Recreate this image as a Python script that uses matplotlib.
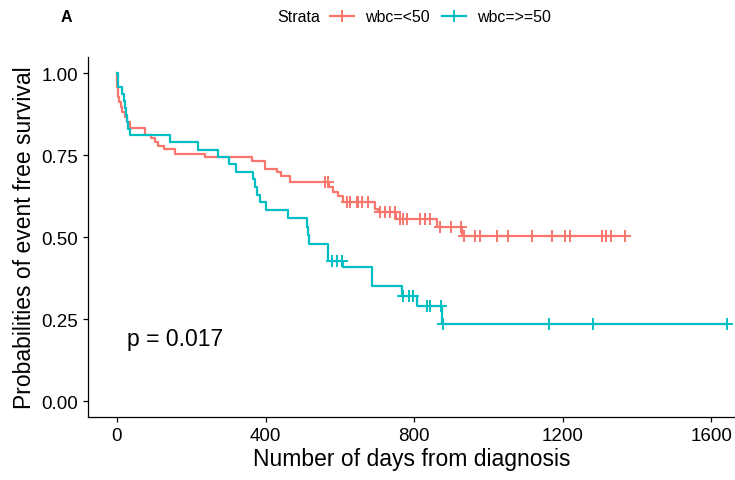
import numpy as np
import matplotlib.pyplot as plt
from matplotlib.lines import Line2D

# Kaplan-Meier step curves
red_days = [0, 1, 3, 5, 10, 14, 22, 26, 35, 75, 93, 102, 110, 127, 156, 237, 363, 399, 430,
            443, 466, 570, 582, 595, 609, 695, 703, 751, 861, 930]
red_surv = [1.0, 0.957, 0.927, 0.912, 0.896, 0.881, 0.866, 0.850, 0.832, 0.812, 0.802, 0.790,
            0.778, 0.768, 0.753, 0.744, 0.731, 0.707, 0.698, 0.687, 0.669, 0.652, 0.637, 0.626,
            0.607, 0.585, 0.576, 0.555, 0.530, 0.502]
red_end = 1370
red_censor = [560, 568, 619, 628, 646, 650, 659, 676, 708, 721, 735, 749, 762, 770, 781, 816,
              830, 843, 870, 900, 925, 935, 964, 978, 1023, 1054, 1117, 1172, 1207, 1220, 1305,
              1317, 1330, 1368]

teal_days = [0, 2, 14, 18, 22, 25, 28, 31, 35, 143, 217, 272, 302, 320, 367, 372, 377, 385, 400,
             461, 511, 514, 517, 568, 609, 686, 767, 807, 874]
teal_surv = [1.0, 0.957, 0.936, 0.915, 0.894, 0.872, 0.851, 0.830, 0.812, 0.790, 0.766, 0.745,
             0.723, 0.700, 0.677, 0.652, 0.628, 0.606, 0.582, 0.557, 0.531, 0.505, 0.479, 0.427,
             0.408, 0.351, 0.321, 0.290, 0.235]
teal_end = 1643
teal_censor = [580, 592, 605, 770, 785, 797, 835, 843, 872, 877, 1163, 1282, 1643]

strata = ['wbc=<50', 'wbc=>=50']
colors = ['#F8766D', '#00BFC4']
p_text = 'p = 0.017'

plt.rcParams['font.family'] = ['Liberation Sans', 'DejaVu Sans']

fig = plt.figure(figsize=(7.35, 4.81), dpi=100)
ax = fig.add_axes([0.1197, 0.130, 0.8803, 0.750])

curves = [(red_days, red_surv, red_end, red_censor), (teal_days, teal_surv, teal_end, teal_censor)]
for (days, surv, end, cens), col in zip(curves, colors):
    x = np.array(days + [end])
    y = np.array(surv + [surv[-1]])
    ax.step(x, y, where='post', color=col, lw=1.6)
    idx = np.searchsorted(days, cens, side='right') - 1
    ax.plot(cens, np.array(surv)[idx], ls='none', marker='+', color=col, ms=8, mew=1.4)

ax.set_xlim(-78, 1664)
ax.set_ylim(-0.05, 1.05)
ax.set_xticks([0, 400, 800, 1200, 1600])
ax.set_yticks([0, 0.25, 0.5, 0.75, 1.0])
ax.set_yticklabels(['0.00', '0.25', '0.50', '0.75', '1.00'])
for s in ['top', 'right']:
    ax.spines[s].set_visible(False)
for s in ['left', 'bottom']:
    ax.spines[s].set_linewidth(0.9)
ax.tick_params(length=3.5, width=0.9, labelsize=13.5, colors='black')
ax.set_xlabel('Number of days from diagnosis', fontsize=16.5, labelpad=2)
ax.set_ylabel('Probabilities of event free survival', fontsize=16.5, labelpad=4)

ax.text(27, 0.19, p_text, fontsize=16.5, va='center', ha='left')

# header: panel letter and legend
fig.text(0.083, 0.963, 'A', fontsize=11.5, fontweight='bold', va='center')
fig.text(0.377, 0.963, 'Strata', fontsize=11.5, va='center')
handles = [Line2D([], [], color=c, lw=1.6, marker='+', ms=8, mew=1.4) for c in colors]
fig.legend(handles, strata, loc='center left', bbox_to_anchor=(0.449, 0.963), ncol=2,
           frameon=False, fontsize=11.5, handlelength=1.5, handletextpad=0.7,
           columnspacing=0.75, borderaxespad=0, borderpad=0)

fig.savefig('out.png', dpi=100)
